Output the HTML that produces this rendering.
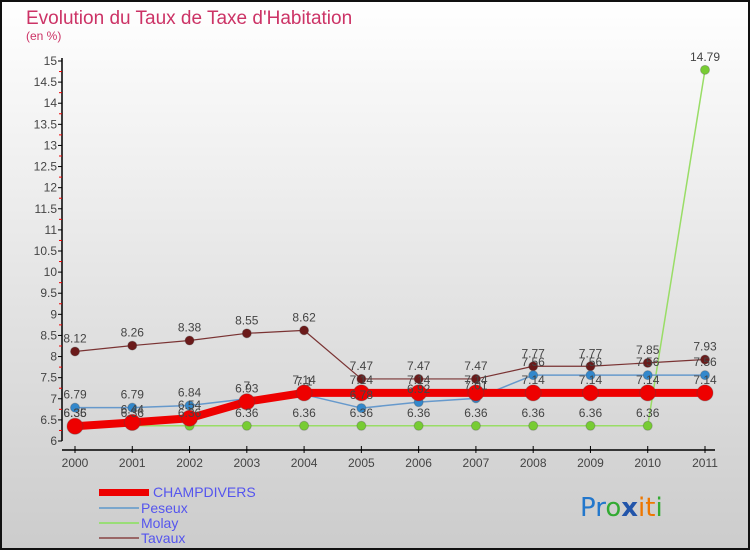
<!DOCTYPE html>
<html><head><meta charset="utf-8"><style>
body{margin:0}
#c{width:750px;height:550px;position:relative;font-family:"Liberation Sans",sans-serif}
</style></head><body>
<div id="c">
<svg id="s" width="750" height="550" xmlns="http://www.w3.org/2000/svg">
<defs><linearGradient id="bg" x1="0" y1="0" x2="0" y2="1"><stop offset="0" stop-color="#ffffff"/><stop offset="1" stop-color="#cccccc"/></linearGradient></defs>
<rect x="1" y="1" width="748" height="548" fill="url(#bg)" stroke="#111" stroke-width="2"/>
<text x="26" y="24" font-size="19" fill="#cc3366">Evolution du Taux de Taxe d'Habitation</text>
<text x="26" y="40" font-size="12" fill="#cc3366">(en %)</text>
<g id="axes"></g><g id="series"></g><g id="labels"></g>
<g>
<rect x="99" y="489" width="50" height="7" fill="#ee0000"/>
<line x1="99" y1="508" x2="139" y2="508" stroke="#7aa6cc" stroke-width="2"/>
<line x1="99" y1="523" x2="139" y2="523" stroke="#99dd77" stroke-width="2"/>
<line x1="99" y1="538" x2="139" y2="538" stroke="#996666" stroke-width="2"/>
<text x="153" y="497" font-size="14" fill="#5555ee">CHAMPDIVERS</text>
<text x="141" y="513" font-size="14" fill="#5555ee">Peseux</text>
<text x="141" y="528" font-size="14" fill="#5555ee">Molay</text>
<text x="141" y="543" font-size="14" fill="#5555ee">Tavaux</text>
</g>
<g font-size="26" font-family="'DejaVu Sans',sans-serif">
<text x="580" y="516"><tspan fill="#2277cc">Pr</tspan><tspan fill="#33aa33">o</tspan><tspan fill="#2255aa" font-weight="bold">x</tspan><tspan fill="#ee7700">it</tspan><tspan fill="#33aa33">i</tspan></text>
</g>
</svg>
</div>
<script>
const years=["2000","2001","2002","2003","2004","2005","2006","2007","2008","2009","2010","2011"];
const champdivers=[6.35,6.44,6.54,6.93,7.14,7.14,7.14,7.14,7.14,7.14,7.14,7.14];
const peseux=[6.79,6.79,6.84,7.0,7.1,6.78,6.92,7.01,7.56,7.56,7.56,7.56];
const molay=[6.36,6.36,6.36,6.36,6.36,6.36,6.36,6.36,6.36,6.36,6.36,14.79];
const tavaux=[8.12,8.26,8.38,8.55,8.62,7.47,7.47,7.47,7.77,7.77,7.85,7.93];
const yTicks=[6,6.5,7,7.5,8,8.5,9,9.5,10,10.5,11,11.5,12,12.5,13,13.5,14,14.5,15];
const NS="http://www.w3.org/2000/svg";
const X=i=>75+i*(630/11);
const Y=v=>441-(v-6)*(380/9);
function mk(p,t,a){const e=document.createElementNS(NS,t);for(const k in a)e.setAttribute(k,a[k]);p.appendChild(e);return e;}
const ax=document.getElementById('axes'),sg=document.getElementById('series'),lg=document.getElementById('labels');
let e=mk(ax,'line',{x1:62,y1:58,x2:62,y2:441,stroke:'#000','stroke-width':1.5});

e=mk(ax,'line',{x1:62,y1:450,x2:715,y2:450,stroke:'#000','stroke-width':1.5});

yTicks.forEach((v,i)=>{
 const y=Y(v);
 let t=mk(ax,'line',{x1:58,y1:y,x2:62,y2:y,stroke:'#000'});
 
 if(i<yTicks.length-1){let m=mk(ax,'line',{x1:59,y1:(y+Y(yTicks[i+1]))/2,x2:62,y2:(y+Y(yTicks[i+1]))/2,stroke:'#e00'});}
 let l=mk(ax,'text',{x:57,y:y+4,'font-size':12,fill:'#444','text-anchor':'end'});l.textContent=String(v);
 
});
years.forEach((yr,i)=>{
 let t=mk(ax,'line',{x1:X(i),y1:446,x2:X(i),y2:453,stroke:'#000'});
 
 let l=mk(ax,'text',{x:X(i),y:467,'font-size':12,fill:'#444','text-anchor':'middle'});l.textContent=yr;
 
});
function series(name,vals,col,w,r,dot,lab){
 const pts=vals.map((v,i)=>X(i)+','+Y(v)).join(' ');
 let p=mk(sg,'polyline',{points:pts,fill:'none',stroke:col,'stroke-width':w,'stroke-linejoin':'round'});
 
 vals.forEach((v,i)=>{
  let c=mk(sg,'circle',{cx:X(i),cy:Y(v),r:r,fill:dot,stroke:'#444','stroke-opacity':0.3});
  
  if(lab){let t=mk(lg,'text',{x:X(i),y:Y(v)-9,'font-size':12,fill:'#444','text-anchor':'middle'});t.textContent=String(v);
  }
 });
}
series('tavaux',tavaux,'#7a3333',1.2,4.5,'#6b1a1a',true);
series('molay',molay,'#99dd66',1.5,4.5,'#77cc33',true);
series('peseux',peseux,'#6699cc',1.5,4.5,'#3388cc',true);
series('champdivers',champdivers,'#ee0000',8,8,'#ee0000',true);
</script>
</body></html>
